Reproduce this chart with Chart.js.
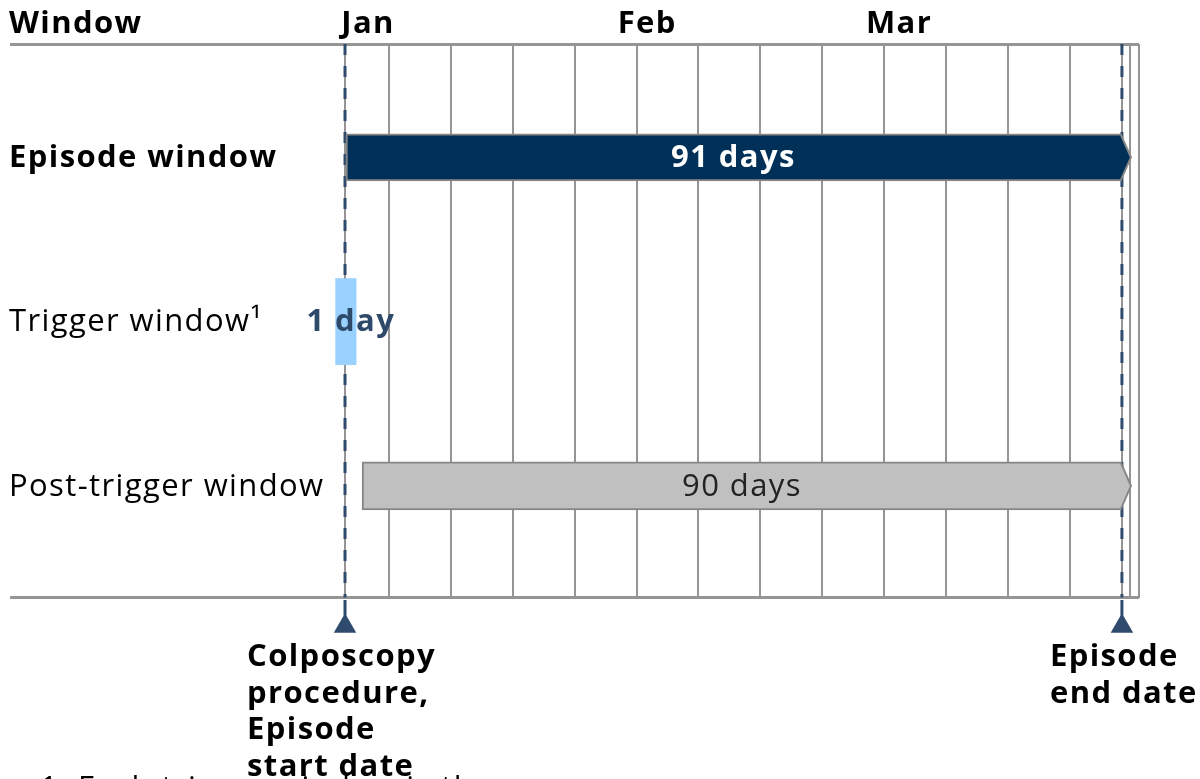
<!DOCTYPE html>
<html>
<head>
<meta charset="utf-8">
<script src="https://cdn.jsdelivr.net/npm/chart.js@4.4.1/dist/chart.umd.min.js"></script>
<style>
  html, body { margin: 0; padding: 0; background: #fff; }
  #wrap { width: 1200px; height: 779px; position: relative; }
</style>
</head>
<body>
<div id="wrap"><canvas id="timeline"></canvas></div>
<script>
// rows of the timeline (top to bottom)
const rows = ['Episode window', 'Trigger window\u00b9', 'Post-trigger window'];
const rowBold = [true, false, false];
// window spans, in days from Jan 1
const windowStart = [0, -1.1, 2];
const windowEnd = [91, 1.3, 91];
const windowText = ['91 days', '1 day', '90 days'];
// month header
const months = ['Jan', 'Feb', 'Mar'];
const monthDay = [2.7, 35.4, 64.9];
// vertical grid lines (days)
const gridDays = [0, 5.2, 12.4, 19.7, 26.9, 34.2, 41.3, 48.6, 55.9, 63.1, 70.4, 77.7, 84.9, 91, 92, 93];
// start / end markers
const markerDay = [0, 91];
const markerText = [['Colposcopy', 'procedure,', 'Episode', 'start date'], ['Episode', 'end date']];
const footnote = '1. Each trigger window is the';

const FONT = '"Open Sans", "Noto Sans", sans-serif';
const FS = '31px ';
const markerColor = '#2E4B6D';
const gridColor = '#959595';
const Y_TOP = -0.69, Y_BOTTOM = 2.68;
const Y_STEM = 2.79, Y_TRI = 2.855;

// arrow tips, triangles, labels and texts
const timelineDecor = {
  id: 'timelineDecor',
  afterDatasetsDraw(chart) {
    const { ctx, scales: { x, y }, chartArea } = chart;
    ctx.save();

    // arrow tips on the bars that have one
    chart.data.datasets.forEach((ds, i) => {
      if (!ds.tip) return;
      const bar = chart.getDatasetMeta(i).data[0];
      const { x: xe, y: yc, height: h } = bar.getProps(['x', 'y', 'height'], true);
      const top = yc - h / 2 + 1, bot = yc + h / 2 - 1;
      ctx.beginPath();
      ctx.moveTo(xe - 1, top);
      ctx.lineTo(xe + 9, yc);
      ctx.lineTo(xe - 1, bot);
      ctx.closePath();
      ctx.fillStyle = ds.backgroundColor;
      ctx.fill();
      ctx.beginPath();
      ctx.moveTo(xe - 1, top);
      ctx.lineTo(xe + 9, yc);
      ctx.lineTo(xe - 1, bot);
      ctx.strokeStyle = ds.borderColor;
      ctx.lineWidth = 2;
      ctx.stroke();
    });

    // marker triangles below the axis
    ctx.fillStyle = markerColor;
    markerDay.forEach(d => {
      Chart.helpers.drawPoint(ctx, { pointStyle: 'triangle', radius: 13, rotation: 0, borderWidth: 0 },
        x.getPixelForValue(d), y.getPixelForValue(Y_TRI));
    });

    ctx.letterSpacing = '1.4px';
    const left = chartArea.left - 1;

    // header
    ctx.fillStyle = '#000';
    ctx.textBaseline = 'alphabetic';
    ctx.font = 'bold ' + FS + FONT;
    ctx.textAlign = 'left';
    ctx.fillText('Window', left, 33);
    ctx.textAlign = 'center';
    months.forEach((m, i) => ctx.fillText(m, x.getPixelForValue(monthDay[i]), 33));

    // row labels
    ctx.textAlign = 'left';
    ctx.textBaseline = 'middle';
    rows.forEach((r, i) => {
      ctx.font = (rowBold[i] ? 'bold ' : '') + FS + FONT;
      ctx.fillStyle = '#000';
      ctx.fillText(r, left, y.getPixelForValue(i) + 1);
    });

    // texts inside the windows
    const textColor = ['#ffffff', '#2E4A6B', '#222222'];
    const textBold = [true, true, false];
    ctx.textAlign = 'center';
    windowText.forEach((t, i) => {
      ctx.font = (textBold[i] ? 'bold ' : '') + FS + FONT;
      ctx.fillStyle = textColor[i];
      const cx = (x.getPixelForValue(windowStart[i]) + x.getPixelForValue(windowEnd[i])) / 2;
      ctx.fillText(t, cx + (i === 1 ? 5 : 0), y.getPixelForValue(i) + 1);
    });

    // marker captions
    ctx.textAlign = 'left';
    ctx.textBaseline = 'alphabetic';
    ctx.font = 'bold ' + FS + FONT;
    ctx.fillStyle = '#000';
    const capOffset = [-98, -72];
    markerText.forEach((lines, i) => {
      const cl = x.getPixelForValue(markerDay[i]) + capOffset[i];
      lines.forEach((l, j) => ctx.fillText(l, cl, 666 + j * 36.7));
    });

    // footnote (runs off the bottom)
    ctx.font = FS + FONT;
    ctx.fillText(footnote, 40, 798);
    ctx.restore();
  }
};

const barBorder = '#878787';

new Chart(document.getElementById('timeline'), {
  data: {
    datasets: [
      {
        type: 'bar',
        data: [{ x: [windowStart[0], windowEnd[0]], y: 0 }],
        backgroundColor: '#003057',
        borderColor: barBorder,
        borderWidth: 2,
        borderSkipped: 'right',
        barThickness: 47,
        grouped: false,
        tip: true,
        order: 1
      },
      {
        type: 'bar',
        data: [{ x: [windowStart[1], windowEnd[1]], y: 1 }],
        backgroundColor: '#99D1FF',
        borderWidth: 0,
        barThickness: 86,
        grouped: false,
        order: 1
      },
      {
        type: 'bar',
        data: [{ x: [windowStart[2], windowEnd[2]], y: 2 }],
        backgroundColor: '#C0C0C0',
        borderColor: barBorder,
        borderWidth: 2,
        borderSkipped: 'right',
        barThickness: 48,
        grouped: false,
        tip: true,
        order: 1
      },
      // dashed start / end lines
      ...markerDay.map(d => ({
        type: 'line',
        indexAxis: 'x',
        data: [{ x: d, y: Y_TOP }, { x: d, y: Y_BOTTOM }],
        borderColor: markerColor,
        borderWidth: 3,
        borderDash: [11, 11],
        pointRadius: 0,
        clip: false,
        order: 3
      })),
      // short solid stems down to the triangles
      ...markerDay.map(d => ({
        type: 'line',
        indexAxis: 'x',
        data: [{ x: d, y: Y_BOTTOM + 0.015 }, { x: d, y: Y_STEM }],
        borderColor: markerColor,
        borderWidth: 3,
        pointRadius: 0,
        clip: false,
        order: 3
      }))
    ]
  },
  options: {
    indexAxis: 'y',
    responsive: true,
    maintainAspectRatio: false,
    animation: false,
    events: [],
    layout: { padding: { top: 44, bottom: 181.5, left: 10, right: 61 } },
    plugins: { legend: { display: false }, tooltip: { enabled: false } },
    scales: {
      x: {
        type: 'linear',
        min: -39.24,
        max: 93,
        afterBuildTicks: s => { s.ticks = gridDays.map(v => ({ value: v })); },
        afterFit: s => { s.paddingLeft = 0; s.paddingRight = 0; },
        ticks: { display: false },
        border: { display: false },
        grid: { color: gridColor, lineWidth: 2, drawTicks: false }
      },
      y: {
        type: 'linear',
        reverse: true,
        min: Y_TOP,
        max: Y_BOTTOM,
        offset: false,
        afterBuildTicks: s => { s.ticks = [{ value: Y_TOP }, { value: Y_BOTTOM }]; },
        afterFit: s => { s.width = 0; s.paddingTop = 0; s.paddingBottom = 0; },
        ticks: { display: false },
        border: { display: false },
        grid: { color: gridColor, lineWidth: 3, drawTicks: false, offset: false }
      }
    }
  },
  plugins: [timelineDecor]
});
</script>
</body>
</html>
